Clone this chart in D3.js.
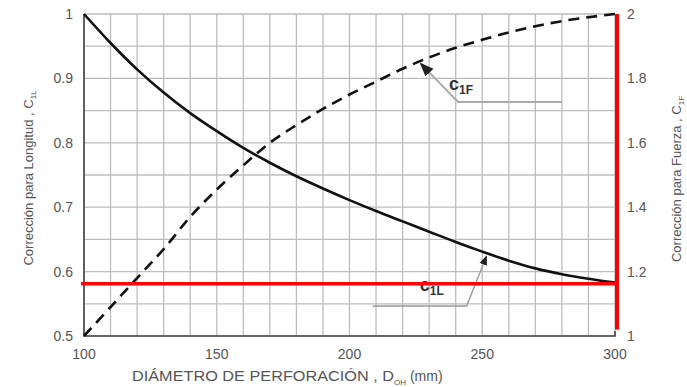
<!DOCTYPE html>
<html>
<head>
<meta charset="utf-8">
<script src="https://cdn.jsdelivr.net/npm/d3@7"></script>
<style>
  body { margin: 0; background: #fff; }
  svg { display: block; font-family: "Liberation Sans", Arial, sans-serif; }
</style>
</head>
<body>
<svg id="chart" width="687" height="387"></svg>
<script>
// diameter of perforation (mm)
const diameters = [100, 110, 120, 130, 140, 150, 160, 170, 180, 190, 200, 210, 220, 230, 240, 250, 260, 270, 280, 290, 300];
// length correction C1L (left axis)
const c1L = [1.0, 0.955, 0.914, 0.878, 0.846, 0.818, 0.792, 0.769, 0.748, 0.729, 0.711, 0.694, 0.678, 0.662, 0.646, 0.631, 0.617, 0.605, 0.596, 0.589, 0.583];
// force correction C1F (right axis)
const c1F = [1.0, 1.09, 1.18, 1.27, 1.37, 1.455, 1.53, 1.60, 1.655, 1.705, 1.75, 1.79, 1.83, 1.865, 1.895, 1.92, 1.943, 1.962, 1.978, 1.99, 2.0];

const xTicks = [100, 150, 200, 250, 300];
const leftTicks = [0.5, 0.6, 0.7, 0.8, 0.9, 1];
const rightTicks = [1, 1.2, 1.4, 1.6, 1.8, 2];
const redLevel = 0.581; // C1L at 300 mm

const svg = d3.select('#chart');
const m = { left: 84, right: 615, top: 14, bottom: 336 };

const x = d3.scaleLinear().domain([100, 300]).range([m.left, m.right]);
const yL = d3.scaleLinear().domain([0.5, 1]).range([m.bottom, m.top]);
const yR = d3.scaleLinear().domain([1, 2]).range([m.bottom, m.top]);

// grid
const grid = svg.append('g').attr('stroke', '#bdbdbd').attr('stroke-width', 1.3);
grid.selectAll('line.v')
  .data(d3.range(100, 301, 10))
  .enter().append('line').attr('class', 'v')
  .attr('x1', d => x(d)).attr('x2', d => x(d))
  .attr('y1', m.top).attr('y2', m.bottom);
grid.selectAll('line.h')
  .data(d3.range(0.5, 1.001, 0.05))
  .enter().append('line').attr('class', 'h')
  .attr('x1', m.left).attr('x2', m.right)
  .attr('y1', d => yL(d)).attr('y2', d => yL(d));

// frame (left + bottom)
svg.append('path')
  .attr('d', `M${m.left},${m.top}V${m.bottom}H${m.right}V${m.bottom - 5}`)
  .attr('fill', 'none').attr('stroke', '#444').attr('stroke-width', 1.6);

// tick labels
const tickColor = '#555';
svg.append('g').selectAll('text')
  .data(leftTicks).enter().append('text')
  .attr('x', 73).attr('y', d => yL(d) + 5)
  .attr('text-anchor', 'end').attr('font-size', 14).attr('fill', tickColor)
  .text(d => d);
svg.append('g').selectAll('text')
  .data(rightTicks).enter().append('text')
  .attr('x', 627).attr('y', d => yR(d) + 5)
  .attr('text-anchor', 'start').attr('font-size', 14).attr('fill', tickColor)
  .text(d => d);
svg.append('g').selectAll('text')
  .data(xTicks).enter().append('text')
  .attr('x', d => x(d)).attr('y', 359)
  .attr('text-anchor', 'middle').attr('font-size', 14).attr('fill', tickColor)
  .text(d => d);

// axis titles
const lt = svg.append('text')
  .attr('transform', 'translate(33,178) rotate(-90)')
  .attr('text-anchor', 'middle').attr('font-size', 13).attr('fill', '#555');
lt.append('tspan').text('Corrección para Longitud , C');
lt.append('tspan').attr('font-size', 8).attr('dy', 3).text('1L');

const rt = svg.append('text')
  .attr('transform', 'translate(681,179) rotate(-90)')
  .attr('text-anchor', 'middle').attr('font-size', 13).attr('fill', '#555');
rt.append('tspan').text('Corrección para Fuerza , C');
rt.append('tspan').attr('font-size', 8).attr('dy', 3).text('1F');

const bt = svg.append('text')
  .attr('x', 132).attr('y', 381)
  .attr('font-size', 14).attr('fill', '#555');
bt.append('tspan').attr('textLength', 262).attr('lengthAdjust', 'spacingAndGlyphs').text('DIÁMETRO DE PERFORACIÓN , D');
bt.append('tspan').attr('font-size', 8).attr('dy', 4).text('OH');
bt.append('tspan').attr('dy', -4).text(' (mm)');

// curves
const lineL = d3.line().x((d, i) => x(diameters[i])).y(d => yL(d)).curve(d3.curveCatmullRom);
const lineR = d3.line().x((d, i) => x(diameters[i])).y(d => yR(d)).curve(d3.curveCatmullRom);

svg.append('path').datum(c1L)
  .attr('d', lineL).attr('fill', 'none')
  .attr('stroke', '#111').attr('stroke-width', 2.6);
svg.append('path').datum(c1F)
  .attr('d', lineR).attr('fill', 'none')
  .attr('stroke', '#111').attr('stroke-width', 2.6)
  .attr('stroke-dasharray', '11,7');

// annotations (leader lines in data units)
svg.append('defs').append('marker')
  .attr('id', 'arr').attr('viewBox', '0 0 10 10').attr('refX', 9).attr('refY', 5)
  .attr('markerWidth', 7).attr('markerHeight', 7).attr('orient', 'auto')
  .append('path').attr('d', 'M0,1L10,5L0,9z').attr('fill', '#222');

const leaderF = [[280, 1.727], [240.9, 1.727], [226.8, 1.846]];
svg.append('path')
  .attr('d', d3.line().x(d => x(d[0])).y(d => yR(d[1]))(leaderF))
  .attr('fill', 'none').attr('stroke', '#aaa').attr('stroke-width', 2)
  .attr('marker-end', 'url(#arr)');

const leaderL = [[208.8, 0.5466], [244.1, 0.5466], [251.6, 0.624]];
svg.append('path')
  .attr('d', d3.line().x(d => x(d[0])).y(d => yL(d[1]))(leaderL))
  .attr('fill', 'none').attr('stroke', '#999').attr('stroke-width', 1.4)
  .attr('marker-end', 'url(#arr)');

const labF = svg.append('text').attr('x', x(237.5)).attr('y', yR(1.765))
  .attr('font-size', 18).attr('font-weight', 'bold').attr('fill', '#333');
labF.append('tspan').text('c');
labF.append('tspan').attr('font-size', 12).attr('dy', 4).text('1F');

const labL = svg.append('text').attr('x', x(226.5)).attr('y', yL(0.5705))
  .attr('font-size', 18).attr('font-weight', 'bold').attr('fill', '#333');
labL.append('tspan').text('c');
labL.append('tspan').attr('font-size', 12).attr('dy', 4).text('1L');

// red reference lines
svg.append('line')
  .attr('x1', m.left - 3).attr('x2', m.right + 4)
  .attr('y1', yL(redLevel)).attr('y2', yL(redLevel))
  .attr('stroke', '#f00').attr('stroke-width', 3.5);
svg.append('line')
  .attr('x1', m.right + 2).attr('x2', m.right + 2)
  .attr('y1', yR(2)).attr('y2', yR(1.02))
  .attr('stroke', '#f00').attr('stroke-width', 4);
</script>
</body>
</html>
